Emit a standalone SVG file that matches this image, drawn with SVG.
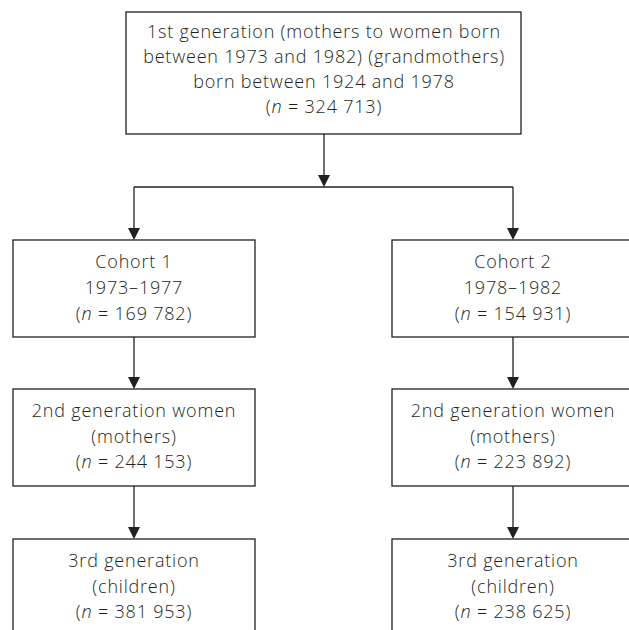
<svg xmlns="http://www.w3.org/2000/svg" width="629" height="630" viewBox="0 0 629 630">
<style>
.box{fill:#ffffff;stroke:#231f20;stroke-width:1.3}
.t{font-family:"Open Sans","Noto Sans","Liberation Sans",sans-serif;font-size:18px;font-weight:300;letter-spacing:0.8px;fill:#231f20;text-anchor:middle}
.i{font-style:italic}
.c{fill:none;stroke:#231f20;stroke-width:1.3}
.ah{fill:#231f20}
</style>
<rect width="629" height="630" fill="#ffffff"/>
<g id="connectors">
<path class="c" d="M324,134 V175"/>
<path class="ah" d="M318,175 L330,175 L324,187 Z"/>
<path class="c" d="M134,187 H513"/>
<path class="c" d="M134,187 V228"/>
<path class="ah" d="M128,228 L140,228 L134,240 Z"/>
<path class="c" d="M513,187 V228"/>
<path class="ah" d="M507,228 L519,228 L513,240 Z"/>
<path class="c" d="M134,337 V377"/>
<path class="ah" d="M128,377 L140,377 L134,389 Z"/>
<path class="c" d="M513,337 V377"/>
<path class="ah" d="M507,377 L519,377 L513,389 Z"/>
<path class="c" d="M134,486 V527"/>
<path class="ah" d="M128,527 L140,527 L134,539 Z"/>
<path class="c" d="M513,486 V527"/>
<path class="ah" d="M507,527 L519,527 L513,539 Z"/>
</g>
<g id="gen1">
<rect class="box" x="126" y="12" width="395" height="122"/>
<text class="t" x="324" y="38">1st generation (mothers to women born</text>
<text class="t" x="324" y="63">between 1973 and 1982) (grandmothers)</text>
<text class="t" x="324" y="88">born between 1924 and 1978</text>
<text class="t" x="324" y="113">(<tspan class="i">n</tspan> = 324 713)</text>
</g>
<g id="cohort1">
<rect class="box" x="13" y="240" width="242" height="97"/>
<text class="t" x="134" y="268">Cohort 1</text>
<text class="t" x="134" y="294">1973–1977</text>
<text class="t" x="134" y="320">(<tspan class="i">n</tspan> = 169 782)</text>
</g>
<g id="cohort2">
<rect class="box" x="392" y="240" width="242" height="97"/>
<text class="t" x="513" y="268">Cohort 2</text>
<text class="t" x="513" y="294">1978–1982</text>
<text class="t" x="513" y="320">(<tspan class="i">n</tspan> = 154 931)</text>
</g>
<g id="gen2-c1">
<rect class="box" x="13" y="389" width="242" height="97"/>
<text class="t" x="134" y="417">2nd generation women</text>
<text class="t" x="134" y="443">(mothers)</text>
<text class="t" x="134" y="468">(<tspan class="i">n</tspan> = 244 153)</text>
</g>
<g id="gen2-c2">
<rect class="box" x="392" y="389" width="242" height="97"/>
<text class="t" x="513" y="417">2nd generation women</text>
<text class="t" x="513" y="443">(mothers)</text>
<text class="t" x="513" y="468">(<tspan class="i">n</tspan> = 223 892)</text>
</g>
<g id="gen3-c1">
<rect class="box" x="13" y="539" width="242" height="100"/>
<text class="t" x="134" y="567">3rd generation</text>
<text class="t" x="134" y="593">(children)</text>
<text class="t" x="134" y="618">(<tspan class="i">n</tspan> = 381 953)</text>
</g>
<g id="gen3-c2">
<rect class="box" x="392" y="539" width="242" height="100"/>
<text class="t" x="513" y="567">3rd generation</text>
<text class="t" x="513" y="593">(children)</text>
<text class="t" x="513" y="618">(<tspan class="i">n</tspan> = 238 625)</text>
</g>
</svg>
